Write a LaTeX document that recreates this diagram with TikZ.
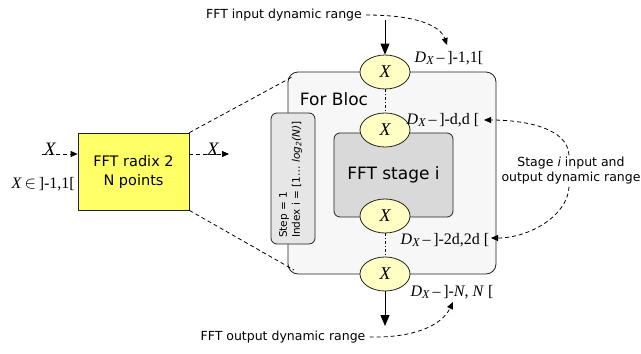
\documentclass[tikz,border=0pt]{standalone}
\usepackage{fontspec}
\setmainfont{Liberation Serif}
\newfontfamily\sansf{DejaVu Sans}
\usetikzlibrary{shapes.geometric,arrows.meta}
\definecolor{radixyellow}{HTML}{FFFF66}
\definecolor{elyellow}{HTML}{FFFFC4}
\definecolor{blocfill}{HTML}{F7F7F7}
\definecolor{stepfill}{HTML}{E6E6E6}
\definecolor{stagefill}{HTML}{D9D9D9}
\definecolor{edge}{HTML}{222222}
\newcommand{\DX}{\textit{D}\raisebox{-0.35ex}{\fontsize{12}{12}\selectfont\textit{X}}\,–\,}
\tikzset{
  sanslabel/.style={font=\sansf\fontsize{12.5}{15}\selectfont, inner sep=0pt},
  rangelabel/.style={font=\fontsize{16}{18}\selectfont, inner sep=0pt},
  xvar/.style={font=\fontsize{19}{19}\selectfont\itshape, inner sep=0pt},
  elnode/.style={ellipse, draw=edge, line width=0.8pt, fill=elyellow, minimum width=50, minimum height=34, inner sep=0pt, font=\fontsize{18}{18}\selectfont\itshape},
  boxline/.style={draw=edge, line width=0.8pt},
  dasharrow/.style={draw=black, line width=0.8pt, dash pattern=on 4pt off 3pt, -{Triangle[length=7pt,width=6pt]}},
  dashline/.style={draw=black, line width=0.8pt, dash pattern=on 4pt off 3pt},
  solidarrow/.style={draw=black, line width=0.9pt, -{Triangle[length=11pt,width=9pt]}},
  dotdash/.style={draw=black, line width=0.8pt, dash pattern=on 3pt off 2pt on 1pt off 2pt},
}
\begin{document}
\begin{tikzpicture}[x=1pt,y=-1pt]
\useasboundingbox (0,0) rectangle (641,354);

% left block
\node[boxline, fill=radixyellow, minimum width=111, minimum height=77, inner sep=0pt,
      font=\sansf\fontsize{14.5}{19}\selectfont, align=center] (radix) at (133.5,171.5) {FFT radix 2\\ N points};
\coordinate (inA) at (42,154);
\coordinate (outB) at (229,154);
\draw[dasharrow] (inA) -- (radix.west |- inA);
\draw[dasharrow] (radix.east |- outB) -- (outB);
\node[xvar] (inX) at (50,149) {X};
\node[xvar] (outX) at (213,149) {X};
\node[rangelabel, anchor=east] (inR) at (75,184) {\textit{X}\,$\in$\,]-1,1[};

% For Bloc
\node[boxline, fill=blocfill, rounded corners=10, minimum width=208, minimum height=202, inner sep=0pt] (bloc) at (392,173) {};
\node[font=\sansf\fontsize{17}{17}\selectfont, inner sep=0pt] (bloctitle) at (334,99) {For Bloc};
\coordinate (zoomT) at (294,76);
\coordinate (zoomB) at (294,270);
\draw[dashline] (radix.north east) -- (zoomT);
\draw[dashline] (radix.south east) -- (zoomB);

% step box
\node[boxline, fill=stepfill, rounded corners=6, minimum width=44, minimum height=131, inner sep=0pt] (stepbox) at (293,178.5) {};
\node[rotate=90, anchor=west, align=left, inner sep=0pt, font=\sansf\fontsize{10.5}{13}\selectfont] (steptext) at (290.5,238)
  {Step = 1\\ Index i = [1… \textit{log\textsubscript{2}(N)}]};

% stage box
\node[boxline, fill=stagefill, rounded corners=6, minimum width=119, minimum height=84, inner sep=0pt,
      font=\sansf\fontsize{17}{17}\selectfont] (stage) at (393.5,175) {FFT stage i};

% ellipses
\node[elnode] (e1) at (385,72) {X};
\node[elnode] (e2) at (385,130) {X};
\node[elnode] (e3) at (385,216) {X};
\node[elnode] (e4) at (385,274) {X};
\draw[dotdash] (e1.south) -- (e2.north);
\draw[dotdash] (e3.south) -- (e4.north);
\coordinate (topIn) at (385,20);
\coordinate (botOut) at (385,326);
\draw[solidarrow] (topIn) -- (e1.north);
\draw[solidarrow] (e4.south) -- (botOut);

% range labels
\node[rangelabel] (L1) at (449,58) {\DX]-1,1[};
\node[rangelabel] (L2) at (443,120) {\DX]-d,d [};
\node[rangelabel] (L3) at (445,240) {\DX]-2d,2d [};
\node[rangelabel] (L4) at (452,292) {\DX]-\textit{N}, \textit{N} [};

% annotations
\node[sanslabel] (inDR) at (284,15) {FFT input dynamic range};
\node[sanslabel] (outDR) at (283,337) {FFT output dynamic range};
\node[sanslabel, align=center] (stDR) at (571,171) {Stage \textit{i} input and\\ output dynamic range};

\coordinate (a1) at (447,45);
\draw[dasharrow] (inDR.east) ++(4,0) .. controls (415,15) and (440,25) .. (a1);
\coordinate (a4) at (453,302);
\draw[dasharrow] (outDR.east) ++(4,0) .. controls (415,338) and (442,325) .. (a4);
\coordinate (a2) at (484,120);
\coordinate (a3) at (491,238);
\draw[dasharrow] (stDR.north) ++(-2,-2) .. controls (568,128) and (525,120) .. (a2);
\draw[dasharrow] (stDR.south) ++(-2,2) .. controls (568,215) and (530,238) .. (a3);
\end{tikzpicture}
\end{document}
